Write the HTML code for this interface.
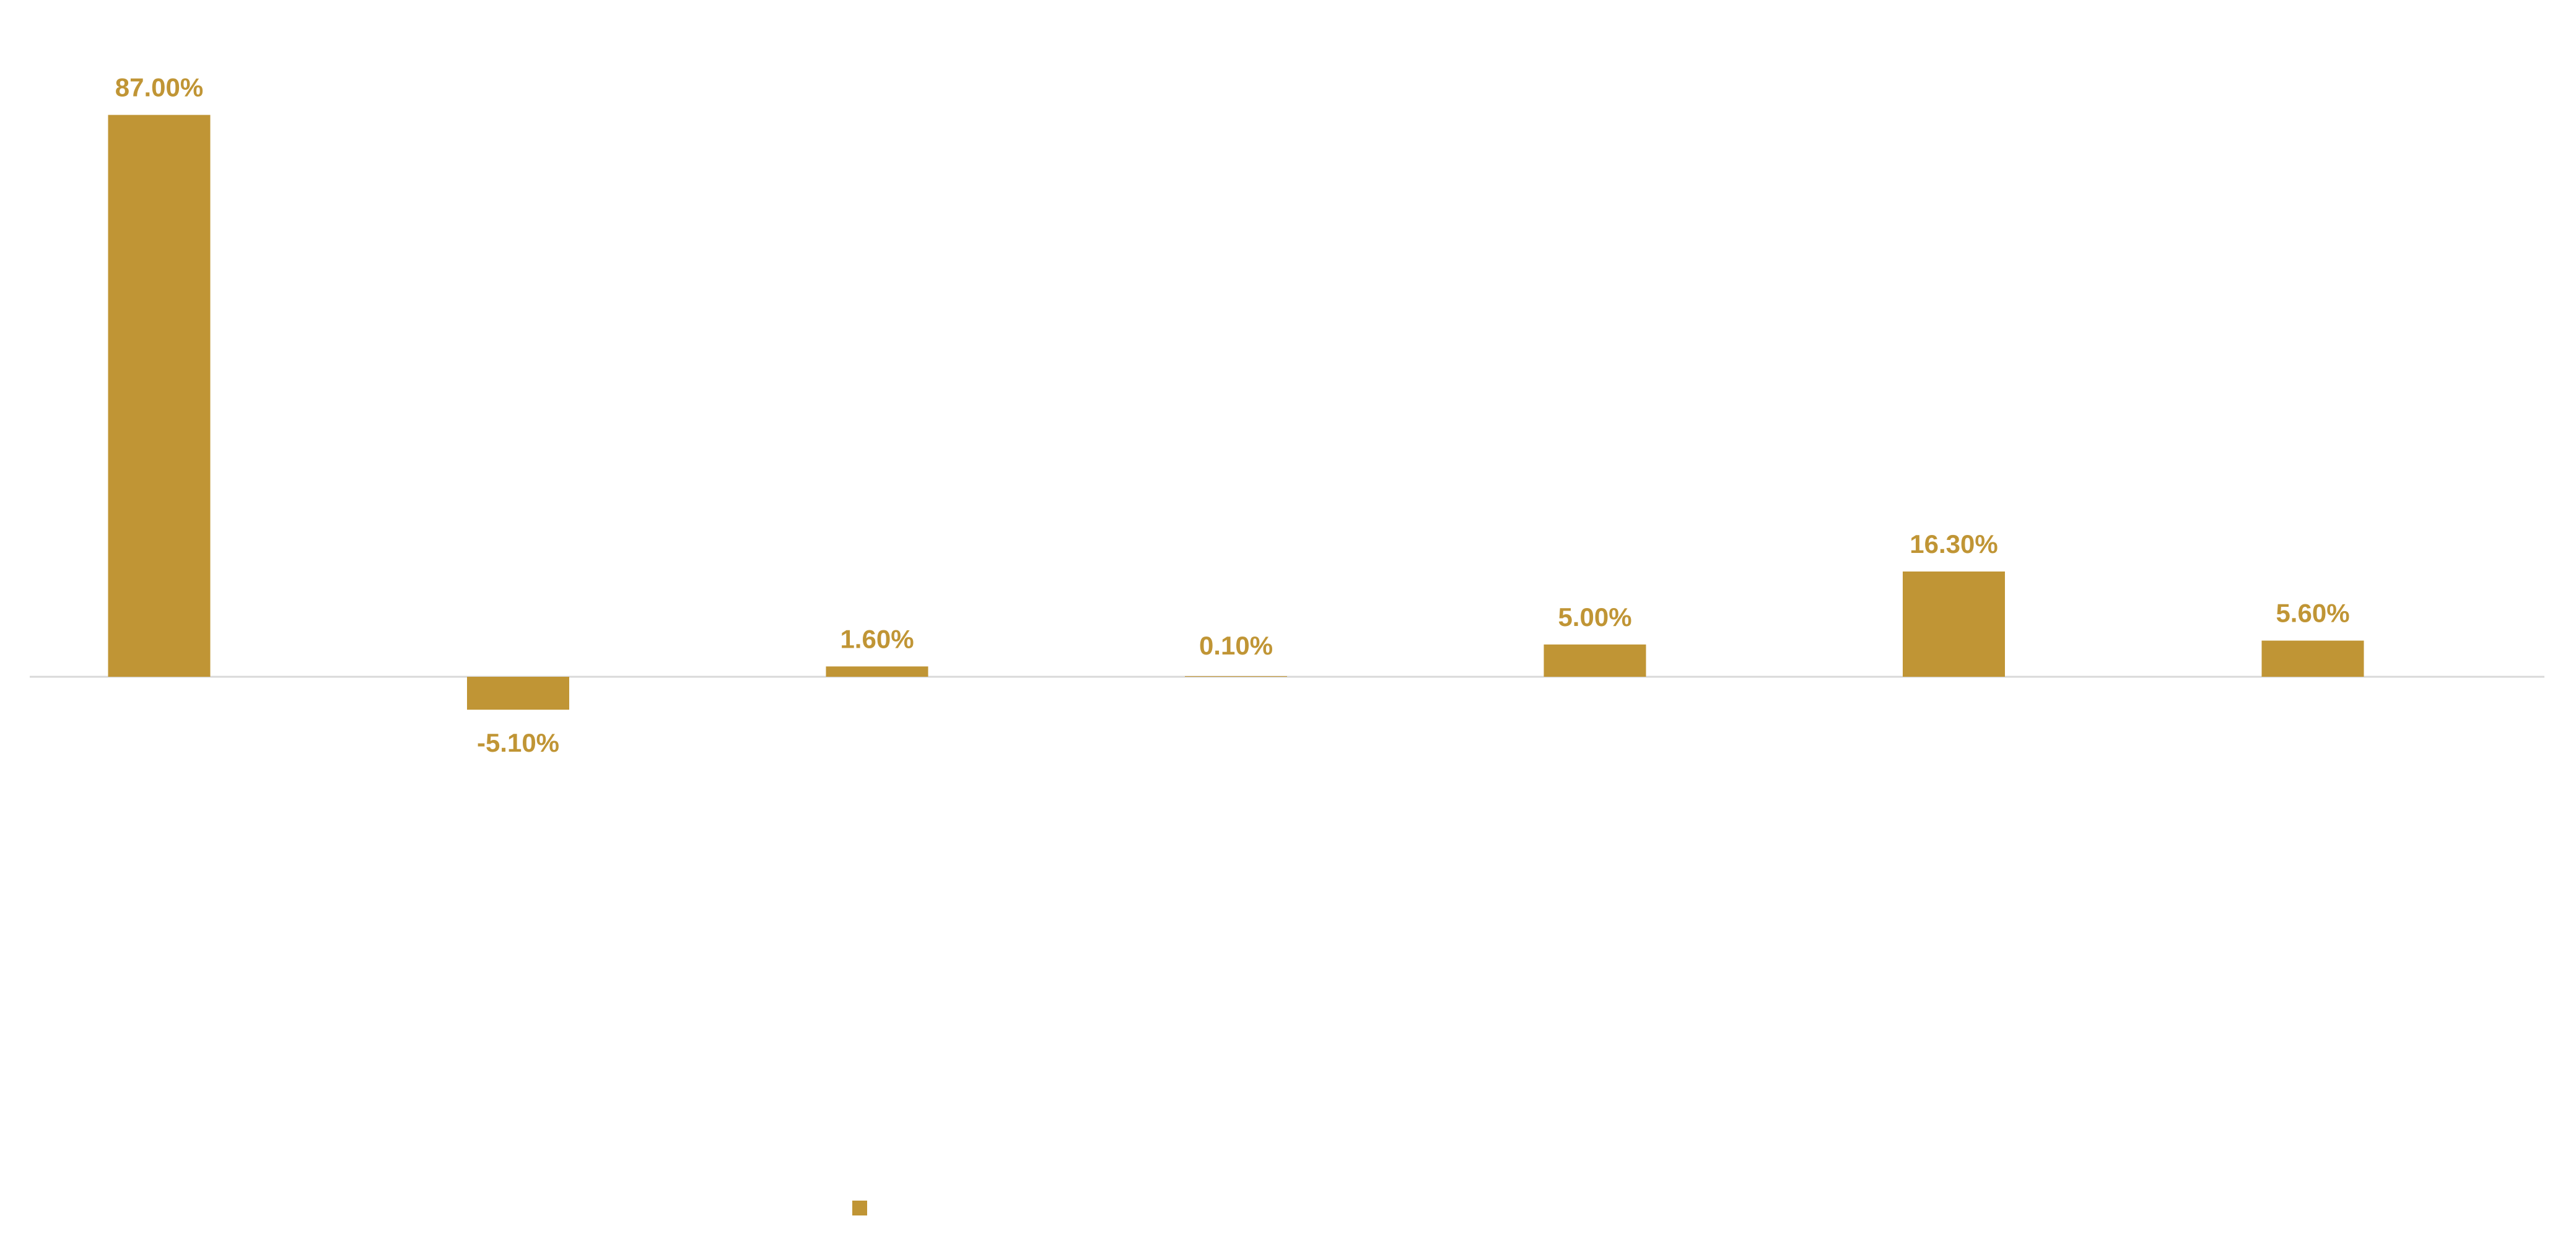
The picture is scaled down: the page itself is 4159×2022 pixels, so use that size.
<!DOCTYPE html>
<html><head><meta charset="utf-8"><style>
html,body{margin:0;padding:0;background:#fff;}
svg{display:block;}
text{font-family:"Liberation Sans",sans-serif;font-weight:bold;fill:#C09535;font-size:42px;}
</style></head><body>
<svg id="chart" width="4159" height="2022" viewBox="0 0 4159 2022" xmlns="http://www.w3.org/2000/svg">
<line x1="48" y1="1093" x2="4108" y2="1093" stroke="#d9d9d9" stroke-width="3"/>
<g id="bars"></g>
<rect x="1376" y="1939" width="24" height="24" fill="#C09535"/>
</svg>
<script>
const categories = ["c1","c2","c3","c4","c5","c6","c7"];
const values = [87.0, -5.1, 1.6, 0.1, 5.0, 16.3, 5.6];
const valueLabels = ["87.00%","-5.10%","1.60%","0.10%","5.00%","16.30%","5.60%"];
const ns="http://www.w3.org/2000/svg";
const g=document.getElementById('bars');
function xScale(i){return 257+i*579.5;}
function yScale(v){return 1093-v*10.43;}
const bw=165;
categories.forEach((c,i)=>{
  const v=values[i], cx=xScale(i), y0=yScale(0), y1=yScale(v);
  const r=document.createElementNS(ns,'rect');
  
  
  r.setAttribute('x',cx-bw/2);
  r.setAttribute('y',Math.min(y0,y1));
  r.setAttribute('width',bw);
  r.setAttribute('height',Math.abs(y1-y0));
  r.setAttribute('fill','#C09535');
  g.appendChild(r);
  const t=document.createElementNS(ns,'text');
  
  
  t.setAttribute('x',cx);
  t.setAttribute('text-anchor','middle');
  t.setAttribute('y', v>=0 ? Math.min(y1,y0-6)-30 : y1+68);
  t.textContent=valueLabels[i];
  g.appendChild(t);
});
</script>
</body></html>
